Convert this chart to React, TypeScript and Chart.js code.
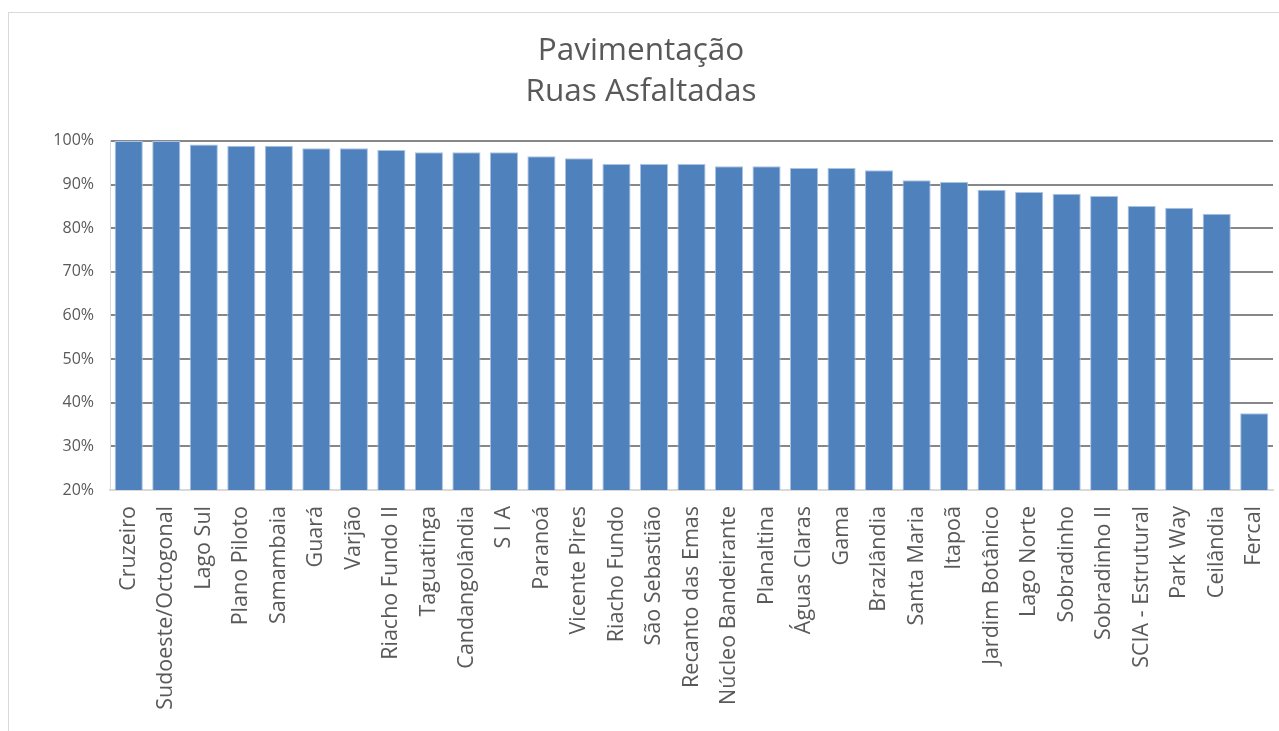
import React, { useEffect, useRef } from "react";
import { Chart, registerables } from "chart.js";

Chart.register(...registerables);

const titleLines = ["Pavimentação", "Ruas Asfaltadas"];

const categories = [
  "Cruzeiro", "Sudoeste/Octogonal", "Lago Sul", "Plano Piloto", "Samambaia",
  "Guará", "Varjão", "Riacho Fundo II", "Taguatinga", "Candangolândia",
  "S I A", "Paranoá", "Vicente Pires", "Riacho Fundo", "São Sebastião",
  "Recanto das Emas", "Núcleo Bandeirante", "Planaltina", "Águas Claras", "Gama",
  "Brazlândia", "Santa Maria", "Itapoã", "Jardim Botânico", "Lago Norte",
  "Sobradinho", "Sobradinho II", "SCIA - Estrutural", "Park Way", "Ceilândia",
  "Fercal",
];

const asphaltPercent = [
  100, 100, 99.2, 98.9, 98.9,
  98.3, 98.3, 97.9, 97.4, 97.4,
  97.4, 96.5, 96.0, 94.7, 94.7,
  94.7, 94.2, 94.2, 93.8, 93.8,
  93.3, 91.0, 90.6, 88.8, 88.3,
  87.9, 87.4, 85.1, 84.7, 83.3,
  37.6,
];

const yMin = 20;
const yMax = 100;
const yStep = 10;

export default function App() {
  const canvasRef = useRef<HTMLCanvasElement | null>(null);

  useEffect(() => {
    if (!canvasRef.current) return;
    const chart = new Chart(canvasRef.current, {
      type: "bar",
      data: {
        labels: categories,
        datasets: [
          {
            data: asphaltPercent,
            backgroundColor: "#4F81BD",
            borderColor: "#aac3e3",
            borderWidth: 1,
            categoryPercentage: 1,
            barPercentage: 0.75,
          },
        ],
      },
      options: {
        responsive: false,
        animation: false,
        devicePixelRatio: 1,
        layout: { padding: { left: 0, right: 6, top: 0, bottom: 0 } },
        plugins: {
          legend: { display: false },
          tooltip: { enabled: false },
          title: {
            display: true,
            text: titleLines,
            color: "#595959",
            font: { family: "'Open Sans'", size: 31.5, weight: "normal", lineHeight: 1.3 },
            padding: { top: 18, bottom: 28 },
          },
        },
        scales: {
          x: {
            grid: { display: false, drawTicks: false },
            border: { display: true, color: "#d9d9d9", width: 2 },
            ticks: {
              autoSkip: false,
              maxRotation: 90,
              minRotation: 90,
              padding: 16,
              color: "#595959",
              font: { family: "'Open Sans'", size: 21.5 },
            },
            afterFit: (scale: any) => {
              scale.height = 241;
              scale.paddingLeft = 0;
              scale.paddingRight = 0;
            },
          },
          y: {
            min: yMin,
            max: yMax,
            grid: {
              drawTicks: false,
              lineWidth: 2,
              color: (ctx: any) => (ctx.tick && ctx.tick.value === yMin ? "rgba(0,0,0,0)" : "#878787"),
            },
            border: { display: true, color: "#d9d9d9", width: 1 },
            ticks: {
              stepSize: yStep,
              padding: 16,
              color: "#595959",
              font: { family: "'Open Sans'", size: 16 },
              callback: (v: any) => `${v}%`,
            },
            afterFit: (scale: any) => {
              scale.width = 101;
            },
          },
        },
      },
    });
    return () => chart.destroy();
  }, []);

  return (
    <div
      style={{
        position: "fixed",
        left: 8,
        top: 12,
        width: 1271,
        height: 719,
        borderTop: "1px solid #d9d9d9",
        borderLeft: "1px solid #d9d9d9",
        background: "#ffffff",
        overflow: "hidden",
      }}
    >
      <canvas ref={canvasRef} width={1270} height={718} style={{ display: "block", width: 1270, height: 718 }} />
    </div>
  );
}
